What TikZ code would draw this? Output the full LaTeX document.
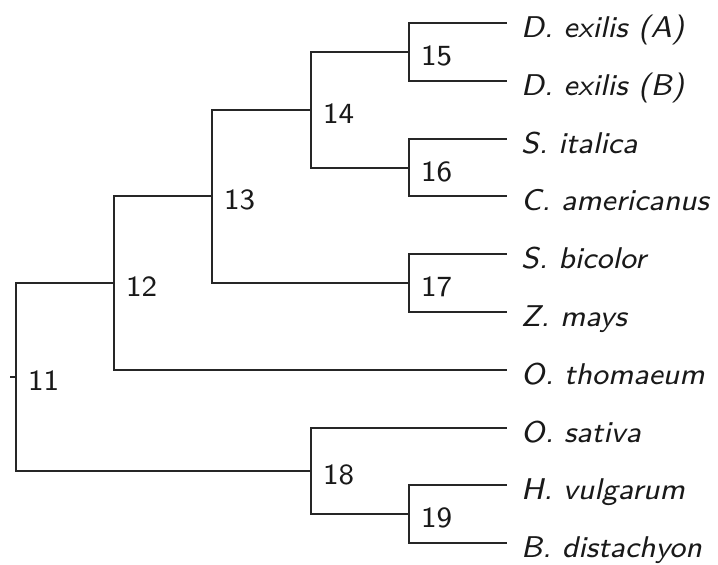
\documentclass[tikz,border=0pt]{standalone}
\usepackage{graphicx}
% small optical size of Latin Modern Sans, enlarged
\newcommand\treelabel[1]{\scalebox{3.65}{\fontsize{8}{9.6}\selectfont\sffamily #1}}
\newcommand\treespecies[1]{\scalebox{3.75}{\fontsize{8}{9.6}\selectfont\sffamily\itshape #1}}
\begin{document}
\begin{tikzpicture}[x=1pt, y=-1pt,
  branch/.style={line width=2pt, draw=black!85},
  leaf/.style={anchor=base west, inner sep=0pt, text=black!90},
  clade/.style={anchor=base west, inner sep=0pt, text=black!90}]
\useasboundingbox (0,0) rectangle (718,565);

% internal nodes
\coordinate (n11) at (16,377);
\coordinate (n12) at (114,283);
\coordinate (n13) at (212,196);
\coordinate (n14) at (311,110);
\coordinate (n15) at (409,52);
\coordinate (n16) at (409,168);
\coordinate (n17) at (409,283);
\coordinate (n18) at (311,471);
\coordinate (n19) at (409,514);
\coordinate (root) at (10,377);

% leaf tips
\coordinate (t1) at (507,23);
\coordinate (t2) at (507,81);
\coordinate (t3) at (507,139);
\coordinate (t4) at (507,196);
\coordinate (t5) at (507,254);
\coordinate (t6) at (507,312);
\coordinate (t7) at (507,370);
\coordinate (t8) at (507,428);
\coordinate (t9) at (507,485);
\coordinate (t10) at (507,543);

% branches
\draw[branch] (root) -- (n11);
\draw[branch] (n11) |- (n12);
\draw[branch] (n11) |- (n18);
\draw[branch] (n12) |- (n13);
\draw[branch] (n12) |- (t7);
\draw[branch] (n13) |- (n14);
\draw[branch] (n13) |- (n17);
\draw[branch] (n14) |- (n15);
\draw[branch] (n14) |- (n16);
\draw[branch] (n15) |- (t1);
\draw[branch] (n15) |- (t2);
\draw[branch] (n16) |- (t3);
\draw[branch] (n16) |- (t4);
\draw[branch] (n17) |- (t5);
\draw[branch] (n17) |- (t6);
\draw[branch] (n18) |- (t8);
\draw[branch] (n18) |- (n19);
\draw[branch] (n19) |- (t9);
\draw[branch] (n19) |- (t10);

% clade numbers
\foreach \n in {11,...,19}
  \node[clade] (l\n) at ([xshift=12pt, yshift=-13pt]n\n) {\treelabel{\n}};

% species names
\node[leaf] (s1) at ([xshift=14pt, yshift=-14pt]t1) {\treespecies{D. exilis (A)}};
\node[leaf] (s2) at ([xshift=14pt, yshift=-14pt]t2) {\treespecies{D. exilis (B)}};
\node[leaf] (s3) at ([xshift=14pt, yshift=-14pt]t3) {\treespecies{S. italica}};
\node[leaf] (s4) at ([xshift=14pt, yshift=-14pt]t4) {\treespecies{C. americanus}};
\node[leaf] (s5) at ([xshift=14pt, yshift=-14pt]t5) {\treespecies{S. bicolor}};
\node[leaf] (s6) at ([xshift=14pt, yshift=-14pt]t6) {\treespecies{Z. mays}};
\node[leaf] (s7) at ([xshift=14pt, yshift=-14pt]t7) {\treespecies{O. thomaeum}};
\node[leaf] (s8) at ([xshift=14pt, yshift=-14pt]t8) {\treespecies{O. sativa}};
\node[leaf] (s9) at ([xshift=14pt, yshift=-14pt]t9) {\treespecies{H. vulgarum}};
\node[leaf] (s10) at ([xshift=14pt, yshift=-14pt]t10) {\treespecies{B. distachyon}};
\end{tikzpicture}
\end{document}
